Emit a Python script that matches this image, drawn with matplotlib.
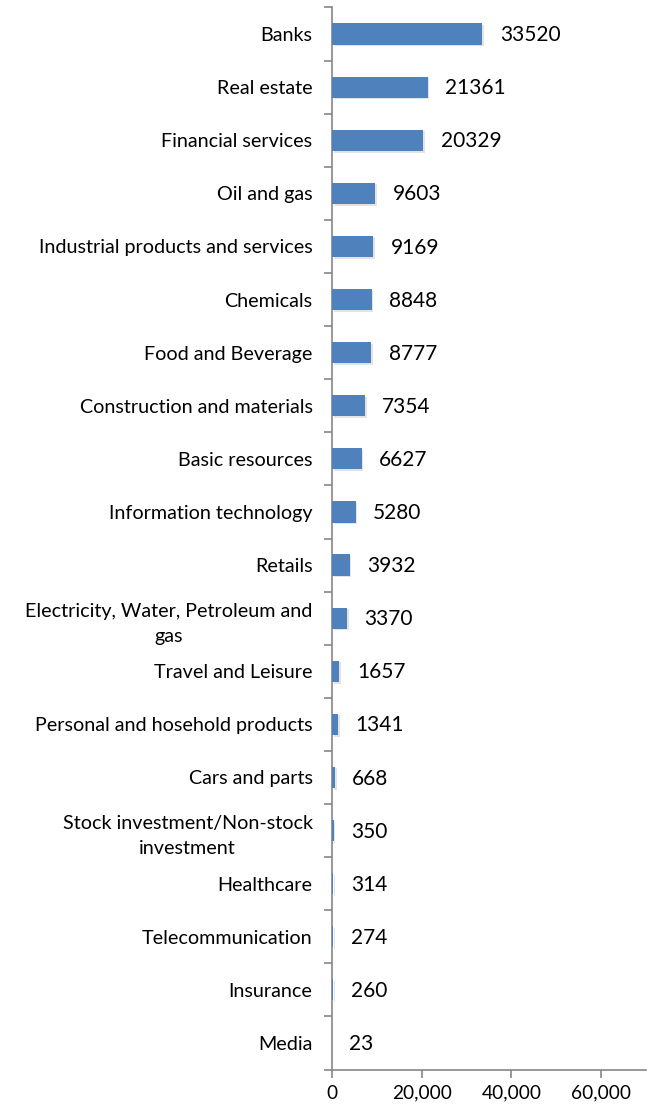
import matplotlib
matplotlib.use("Agg")
import matplotlib.pyplot as plt
import matplotlib.patheffects as pe
from matplotlib.ticker import FuncFormatter, FixedLocator

plt.rcParams['font.family'] = ['Lato', 'DejaVu Sans']

categories = [
    "Banks", "Real estate", "Financial services", "Oil and gas",
    "Industrial products and services", "Chemicals", "Food and Beverage",
    "Construction and materials", "Basic resources", "Information technology",
    "Retails", "Electricity, Water, Petroleum and\ngas", "Travel and Leisure",
    "Personal and hosehold products", "Cars and parts",
    "Stock investment/Non-stock\ninvestment", "Healthcare",
    "Telecommunication", "Insurance", "Media",
]
values = [33520, 21361, 20329, 9603, 9169, 8848, 8777, 7354, 6627, 5280,
          3932, 3370, 1657, 1341, 668, 350, 314, 274, 260, 23]
x_ticks = [0, 20000, 40000, 60000]

W, H = 652, 1106
fig = plt.figure(figsize=(W / 100, H / 100), dpi=100)
ax = fig.add_axes([332 / W, 1 - 1069.5 / H, (646 - 332) / W, (1069.5 - 7.5) / H])

n = len(categories)
pos = list(range(n))
bars = ax.barh(pos, values, height=0.4, color="#4F81BD", zorder=3)
for b in bars:
    b.set_path_effects([pe.SimplePatchShadow(offset=(1.2, -1.2), shadow_rgbFace="#b0b0b0", alpha=0.35),
                        pe.Normal()])

for p, v in zip(pos, values):
    ax.annotate(str(v), xy=(v, p), xytext=(12.5, -0.8), textcoords="offset points",
                ha="left", va="center", fontsize=15, color="#000000")

ax.set_xlim(0, 70000)
ax.set_ylim(n - 0.5, -0.5)

ax.yaxis.set_major_locator(FixedLocator([i - 0.5 for i in range(n + 1)]))
ax.yaxis.set_major_formatter(FuncFormatter(lambda v, i: ""))
ax.yaxis.set_minor_locator(FixedLocator(pos))
ax.set_yticklabels(categories, minor=True)
ax.tick_params(axis="y", which="minor", length=0, pad=14, labelsize=14.2)
ax.tick_params(axis="y", which="major", length=6, width=1.2, color="#868686", direction="out")
for lbl in ax.get_yticklabels(minor=True):
    lbl.set_multialignment("center")
    lbl.set_linespacing(1.6)

ax.xaxis.set_major_locator(FixedLocator(x_ticks))
ax.xaxis.set_major_formatter(FuncFormatter(lambda v, i: f"{int(v):,}"))
ax.tick_params(axis="x", length=6, width=1.2, color="#868686", direction="out",
               labelsize=13.8, pad=5)

for s in ["top", "right"]:
    ax.spines[s].set_visible(False)
for s in ["left", "bottom"]:
    ax.spines[s].set_color("#868686")
    ax.spines[s].set_linewidth(1.2)

fig.savefig("out.png", dpi=100, facecolor="white")
